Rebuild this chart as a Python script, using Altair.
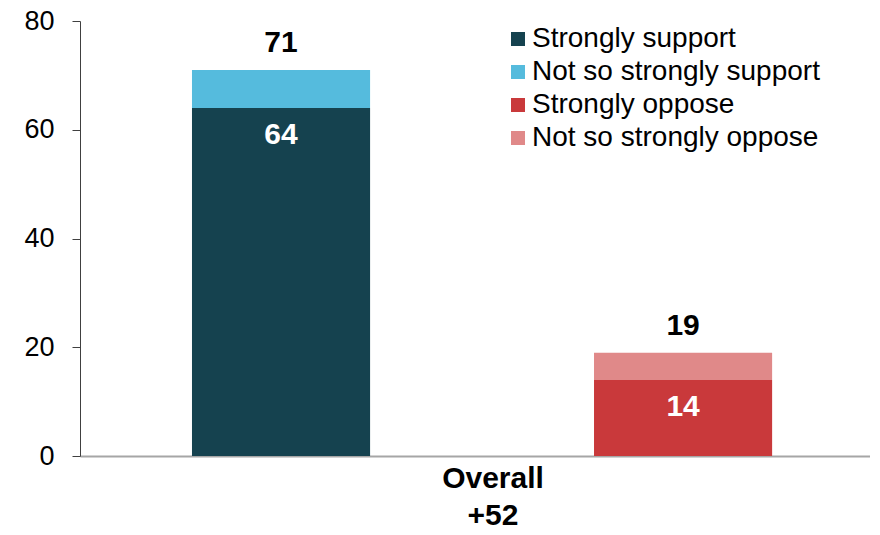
import altair as alt
import pandas as pd

question = ["Overall", "Overall", "Overall", "Overall"]
groups = ["Support", "Support", "Oppose", "Oppose"]
categories = ["Strongly support", "Not so strongly support", "Strongly oppose", "Not so strongly oppose"]
values = [64, 7, 14, 5]
stack_order = [1, 2, 1, 2]
net_label = "+52"
colors = ["#15424F", "#55BBDD", "#C9393B", "#E08989"]

df = pd.DataFrame({
    "question": question,
    "group": groups,
    "category": categories,
    "value": values,
    "order": stack_order,
})

FONT = "Liberation Sans"

x_enc = alt.X(
    "question:N",
    title=None,
    scale=alt.Scale(paddingInner=0, paddingOuter=0),
    axis=alt.Axis(
        labelExpr=f"[datum.value, '{net_label}']",
        labelAngle=0,
        ticks=False,
        domainColor="#A6A6A6",
        domainWidth=2,
        labelFont=FONT,
        labelFontSize=30,
        labelFontWeight="bold",
        labelColor="#000000",
        labelPadding=7,
        labelLineHeight=37,
        labelOffset=18,
    ),
)
xo_enc = alt.XOffset(
    "group:N",
    sort=["Support", "Oppose"],
    scale=alt.Scale(paddingInner=0.557, paddingOuter=0.261, align=0.5336),
)

base = alt.Chart(df)

bars = base.mark_bar().encode(
    x=x_enc,
    xOffset=xo_enc,
    y=alt.Y(
        "value:Q",
        stack="zero",
        title=None,
        scale=alt.Scale(domain=[0, 80]),
        axis=alt.Axis(
            values=[0, 20, 40, 60, 80],
            grid=False,
            tickSize=8,
            tickColor="#404040",
            domainColor="#404040",
            labelPadding=18,
            labelFont=FONT,
            labelFontSize=27,
            labelColor="#000000",
        ),
    ),
    color=alt.Color(
        "category:N",
        scale=alt.Scale(domain=categories, range=colors),
        legend=alt.Legend(
            title=None,
            orient="none",
            legendX=424,
            legendY=4,
            symbolType="square",
            symbolSize=196,
            symbolStrokeWidth=0,
            labelFont=FONT,
            labelFontSize=28,
            labelColor="#000000",
            labelOffset=0,
            labelLimit=0,
            rowPadding=5,
        ),
    ),
    order=alt.Order("order:Q"),
)

totals = base.transform_aggregate(
    total="sum(value)", groupby=["question", "group"]
).mark_text(
    font=FONT, fontSize=30, fontWeight="bold", color="#000000", baseline="middle", dy=-27
).encode(
    x=x_enc,
    xOffset=xo_enc,
    y=alt.Y("total:Q"),
    text=alt.Text("total:Q"),
)

inner = base.transform_filter(
    alt.datum.order == 1
).mark_text(
    font=FONT, fontSize=30, fontWeight="bold", color="#FFFFFF", baseline="middle", dy=27
).encode(
    x=x_enc,
    xOffset=xo_enc,
    y=alt.Y("value:Q"),
    text=alt.Text("value:Q"),
)

chart = alt.layer(bars, totals, inner).properties(
    width=790,
    height=435,
    autosize=alt.AutoSizeParams(type="none"),
    padding={"left": 72, "top": 13, "right": 0, "bottom": 71},
).configure_view(stroke=None)

chart.save("out.html", embed_options={"renderer": "svg", "actions": False})
